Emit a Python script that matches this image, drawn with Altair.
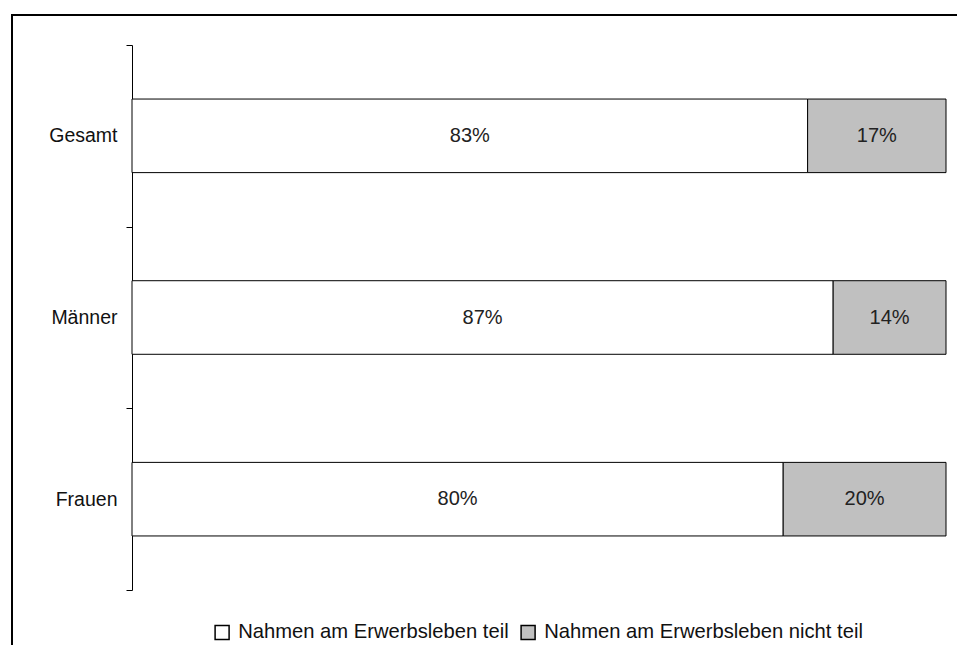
import altair as alt
import pandas as pd

categories = ["Gesamt", "Männer", "Frauen"]
series = ["Nahmen am Erwerbsleben teil", "Nahmen am Erwerbsleben nicht teil"]
teil = [83, 87, 80]
nicht_teil = [17, 14, 20]
colors = ["#FFFFFF", "#C0C0C0"]

rows = []
for i, c in enumerate(categories):
    rows.append({"cat": c, "series": series[0], "value": teil[i], "ord": 0, "label": f"{teil[i]}%"})
    rows.append({"cat": c, "series": series[1], "value": nicht_teil[i], "ord": 1, "label": f"{nicht_teil[i]}%"})
df = pd.DataFrame(rows)

FONT = "Liberation Sans"

ysc = alt.Scale(domain=categories, paddingInner=0, paddingOuter=0)

base = alt.Chart(df).transform_stack(
    stack="value", groupby=["cat"], as_=["x0", "x1"], offset="normalize",
    sort=[alt.SortField("ord", order="ascending")]
).transform_calculate(mid="(datum.x0 + datum.x1) / 2")

bars = base.mark_bar(stroke="black", strokeWidth=1, height={"band": 0.405}).encode(
    y=alt.Y("cat:N", scale=ysc, title=None,
            axis=alt.Axis(tickBand="extent", tickSize=6, tickColor="black", domainColor="black",
                          labelPadding=9, labelFontSize=19.5, labelColor="#111", labelFont=FONT,
                          grid=False)),
    x=alt.X("x0:Q", scale=alt.Scale(domain=[0, 1], nice=False), axis=None),
    x2="x1:Q",
    fill=alt.Fill("series:N", scale=alt.Scale(domain=series, range=colors),
                  legend=alt.Legend(title=None, orient="none", direction="horizontal",
                                    legendX=80, legendY=577, padding=0, symbolType="square",
                                    symbolSize=196, symbolStrokeColor="black", symbolStrokeWidth=1.5,
                                    labelFontSize=20.2, labelFont=FONT, labelColor="#111",
                                    labelLimit=0, labelOffset=6, columnPadding=9)),
)

texts = base.mark_text(fontSize=20, font=FONT, color="#222").encode(
    y=alt.Y("cat:N", scale=ysc),
    x=alt.X("mid:Q"),
    text="label:N",
)

border = alt.Chart(pd.DataFrame({"a": [0]})).mark_rect(
    filled=False, stroke="black", strokeWidth=2, clip=False
).encode(x=alt.value(-120), x2=alt.value(900), y=alt.value(-30), y2=alt.value(700))

chart = alt.layer(border, bars, texts).properties(
    width=814, height=545, background="white",
    padding={"left": 124, "top": 37, "right": 11, "bottom": 55},
    autosize=alt.AutoSizeParams(type="none"),
).configure_view(stroke=None, strokeWidth=0)

chart.save("out.html", embed_options={"renderer": "svg", "actions": False})
